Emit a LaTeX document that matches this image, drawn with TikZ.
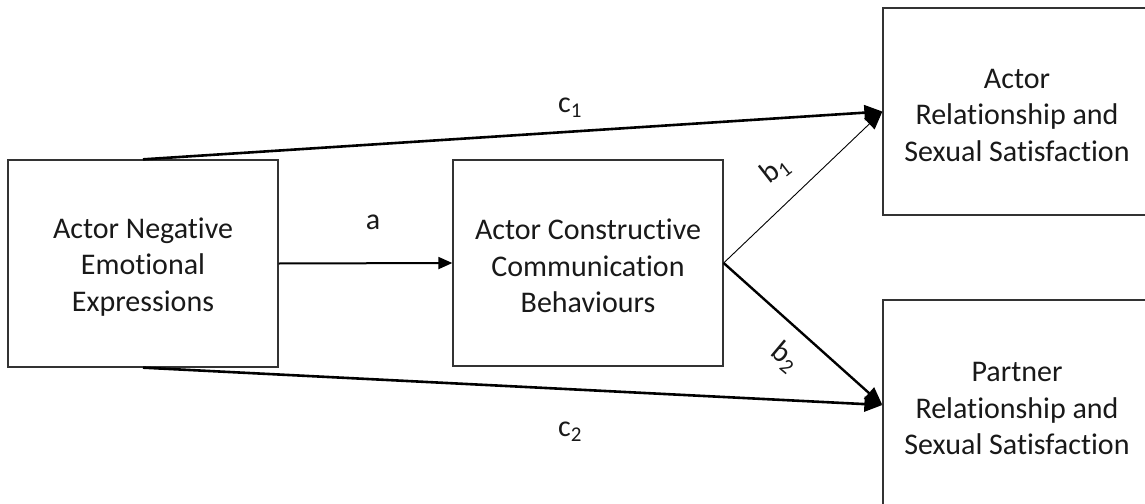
\documentclass[tikz,border=0pt]{standalone}
\usepackage{fontspec}
\setmainfont[Ligatures=NoCommon]{Carlito}
\usetikzlibrary{arrows.meta}
\newcommand{\topgap}{\rule{0pt}{27pt}}
\begin{document}
\begin{tikzpicture}[x=1pt,y=-1pt,
  box/.style={draw=black!80, line width=1.3pt, inner sep=0pt, align=center,
    font=\fontsize{30}{36.5}\selectfont, text=black!90},
  lbl/.style={font=\fontsize{30}{34}\selectfont, text=black!90, inner sep=0pt},
  bigarr/.style={-{Triangle[length=18pt,width=15pt]}},
  smallarr/.style={-{Triangle[length=14pt,width=12pt]}}]
\useasboundingbox (0,0) rectangle (1145,503);
\node[box, minimum width=270pt, minimum height=207pt] (neg) at (143,263.5)
  {\topgap Actor Negative\\Emotional\\Expressions};
\node[box, minimum width=270pt, minimum height=206pt] (con) at (588,263)
  {\topgap Actor Constructive\\Communication\\Behaviours};
\node[box, minimum width=268pt, minimum height=207pt] (asat) at (1017,111.5)
  {\topgap Actor\\Relationship and\\Sexual Satisfaction};
\node[box, minimum width=268pt, minimum height=210pt] (psat) at (1017,405)
  {\topgap Partner\\Relationship and\\Sexual Satisfaction};
\draw[bigarr, line width=2.6pt] (neg.north) -- (asat.west);
\draw[bigarr, line width=2.6pt] (neg.south) -- (psat.west);
\draw[smallarr, line width=2pt] (neg.east) -- (con.west);
\draw[bigarr, line width=0.9pt] (con.east) -- (asat.west);
\draw[bigarr, line width=2.4pt] (con.east) -- (psat.west);
\node[lbl] (lc1) at (570,108) {c\textsubscript{1}};
\node[lbl] (lc2) at (570,432) {c\textsubscript{2}};
\node[lbl] (la) at (373,222) {a};
\node[lbl, rotate=38] (lb1) at (775,170) {b\textsubscript{1}};
\node[lbl, rotate=-40] (lb2) at (785,357) {b\textsubscript{2}};
\end{tikzpicture}
\end{document}
